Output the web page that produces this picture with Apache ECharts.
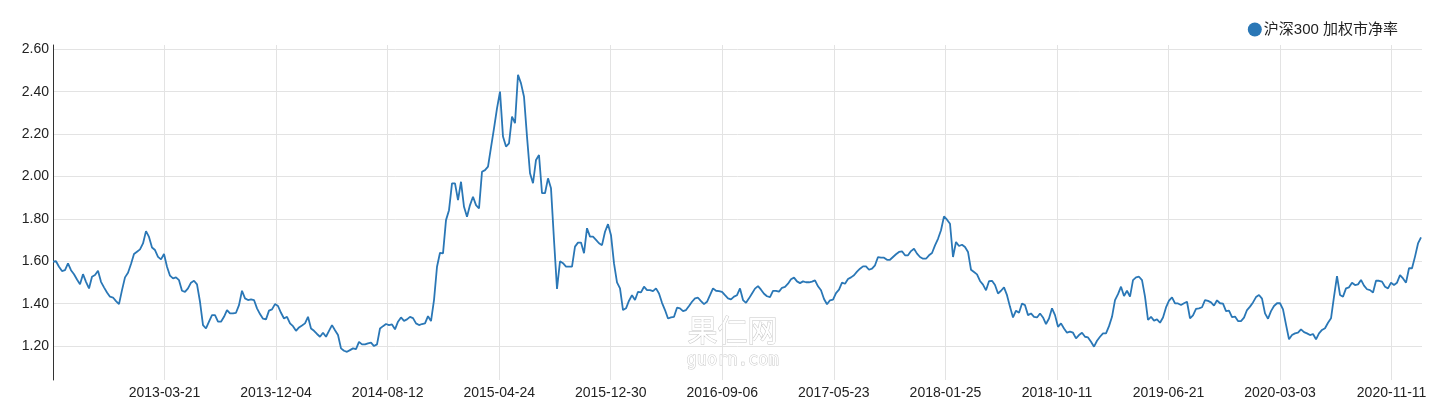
<!DOCTYPE html>
<html><head><meta charset="utf-8">
<script src="https://cdn.jsdelivr.net/npm/echarts@6/dist/echarts.min.js"></script>
<style>html,body{margin:0;padding:0;background:#fff}#c{width:1437px;height:403px}</style>
</head><body><div id="c"></div>
<script>
const seriesName = '沪深300 加权市净率';
const tickLabels = ['2013-03-21','2013-12-04','2014-08-12','2015-04-24','2015-12-30','2016-09-06',
  '2017-05-23','2018-01-25','2018-10-11','2019-06-21','2020-03-03','2020-11-11'];
const yTicks = [1.2, 1.4, 1.6, 1.8, 2.0, 2.2, 2.4, 2.6];
const pb = [
1.598,1.60,1.574,1.554,1.558,1.590,1.558,1.539,1.514,1.492,
1.539,1.503,1.472,1.527,1.535,1.555,1.503,1.477,1.453,1.433,
1.429,1.412,1.398,1.464,1.524,1.546,1.587,1.634,1.645,1.656,
1.684,1.742,1.715,1.665,1.653,1.621,1.609,1.634,1.574,1.532,
1.519,1.524,1.511,1.461,1.456,1.472,1.499,1.508,1.491,1.409,
1.299,1.283,1.315,1.346,1.346,1.315,1.315,1.338,1.370,1.354,
1.354,1.357,1.393,1.461,1.425,1.417,1.420,1.417,1.378,1.351,
1.329,1.326,1.367,1.373,1.398,1.389,1.357,1.330,
1.338,1.307,1.294,1.272,1.288,1.297,1.307,1.338,1.283,1.272,
1.257,1.244,1.263,1.244,1.272,1.299,1.275,1.252,1.189,1.178,
1.173,1.181,1.189,1.186,1.220,1.208,1.208,1.213,1.216,1.200,
1.208,1.283,1.294,1.304,1.299,1.302,1.279,1.315,1.335,1.319,
1.326,1.338,1.332,1.307,1.299,1.304,1.307,1.341,1.318,1.417,
1.574,1.640,1.637,1.794,1.841,1.967,1.967,1.888,1.975,1.857,
1.810,1.865,1.904,1.865,1.849,2.022,2.030,2.046,
2.137,2.227,2.321,2.400,2.188,2.141,2.156,2.282,2.251,2.480,
2.439,2.376,2.188,2.015,1.968,2.078,2.101,1.921,1.921,1.991,
1.944,1.700,1.470,1.600,1.591,1.575,1.575,1.575,1.669,1.688,
1.688,1.638,1.756,1.716,1.716,1.701,1.685,
1.676,1.739,1.775,1.723,1.590,1.500,1.472,1.370,1.378,1.414,
1.440,1.417,1.456,1.453,1.480,1.464,1.464,1.459,1.472,1.448,
1.404,1.370,1.330,1.335,1.338,1.381,1.378,1.365,1.370,1.389,
1.409,1.425,1.428,1.412,1.398,1.409,1.440,1.472,1.461,1.459,
1.456,1.440,1.425,1.420,1.433,1.440,1.472,1.417,1.404,1.425,
1.448,
1.471,1.483,1.466,1.447,1.435,1.431,1.460,1.460,1.457,1.475,
1.479,1.494,1.515,1.523,1.505,1.497,1.505,1.501,1.501,1.504,
1.510,1.482,1.463,1.422,1.397,1.416,1.419,1.450,1.466,1.499,
1.494,1.516,1.524,1.534,1.551,1.565,1.576,1.576,1.560,1.565,
1.581,1.620,1.617,1.617,1.607,1.607,1.620,1.633,1.644,1.647,
1.628,1.628,1.648,1.659,1.636,1.620,1.612,1.612,1.628,1.639,
1.675,1.706,1.746,1.812,1.796,1.777,1.620,1.691,1.672,1.678,
1.667,1.644,1.560,1.549,1.538,1.507,1.490,1.463,
1.506,1.508,1.488,1.448,1.461,1.477,1.440,1.385,1.335,1.367,
1.357,1.401,1.393,1.346,1.354,1.338,1.335,1.354,1.335,1.304,
1.330,1.378,1.346,1.291,1.307,1.283,1.263,1.268,1.263,1.236,
1.252,1.263,1.244,1.241,1.220,1.197,1.225,1.244,1.260,1.260,
1.294,1.338,1.417,1.445,1.480,1.436,1.461,1.433,1.511,1.524,
1.527,1.511,1.433,1.323,1.338,1.320,1.326,1.310,1.335,1.382,
1.414,1.430,1.401,1.401,
1.394,1.402,1.409,1.331,1.345,1.375,1.378,1.383,1.417,1.413,
1.406,1.391,1.416,1.402,1.400,1.365,1.367,1.337,1.339,1.318,
1.318,1.334,1.370,1.386,1.406,1.431,1.441,1.424,1.354,1.329,
1.365,1.389,1.402,1.402,1.373,1.301,1.232,1.252,1.260,1.263,
1.279,1.266,1.260,1.252,1.257,1.232,1.260,1.276,1.284,1.310,
1.331,1.433,1.530,1.441,1.433,1.472,1.477,1.499,1.488,1.491,
1.512,1.485,1.468,1.464,1.453,1.508,1.508,1.504,1.480,1.472,
1.499,1.488,1.499,1.535,1.519,1.499,1.567,1.567,1.622,1.684,
1.713
];
const labelStep = 37.183;
const xTicks = tickLabels.map((_, k) => (k + 1) * labelStep);
const data = pb.map((v, i) => [i, v]);
const chart = echarts.init(document.getElementById('c'), null, {renderer: 'canvas'});
const font = 'Arial, "Liberation Sans", "Noto Sans CJK SC", sans-serif';
chart.setOption({
  animation: false,
  backgroundColor: '#fff',
  textStyle: {fontFamily: font},
  grid: {left: 53, right: 15, top: 45, bottom: 23, containLabel: false},
  legend: {
    data: [seriesName], right: 34, top: 17, icon: 'circle', itemWidth: 14, itemHeight: 14,
    textStyle: {fontSize: 15, color: '#222', fontFamily: font, padding: [0, 0, 0, -3]}
  },
  graphic: [
    {type: 'text', left: 687, top: 314, z: -1, silent: true,
     style: {text: '果仁网', font: '30px "Noto Sans CJK SC"', fill: '#fff', stroke: '#c8c8c8', lineWidth: 1}},
    {type: 'text', left: 686, top: 352, z: -1, silent: true,
     style: {text: 'guorn.com', font: '17px "DejaVu Sans Mono"', fill: '#fff', stroke: '#c8c8c8', lineWidth: 1}}
  ],
  xAxis: {
    type: 'value', min: 0, max: 456.33,
    axisLine: {show: false},
    axisTick: {show: false, customValues: xTicks},
    axisLabel: {customValues: xTicks, color: '#222', fontSize: 14, margin: 6, fontFamily: font,
      formatter: v => tickLabels[Math.round(v / labelStep) - 1] || ''},
    splitLine: {show: true, lineStyle: {color: '#e3e3e3', width: 1}}
  },
  yAxis: {
    type: 'value', min: 1.04, max: 2.62,
    axisLine: {show: true, lineStyle: {color: '#333', width: 1}},
    axisTick: {show: false, customValues: yTicks},
    axisLabel: {customValues: yTicks, color: '#222', fontSize: 14, margin: 4, fontFamily: font,
      formatter: v => v.toFixed(2)},
    splitLine: {show: true, lineStyle: {color: '#e3e3e3', width: 1}}
  },
  series: [{
    name: seriesName, type: 'line', data: data, showSymbol: false, symbol: 'circle',
    lineStyle: {color: '#2a77b6', width: 1.8}, itemStyle: {color: '#2a77b6'}
  }]
});
</script></body></html>
